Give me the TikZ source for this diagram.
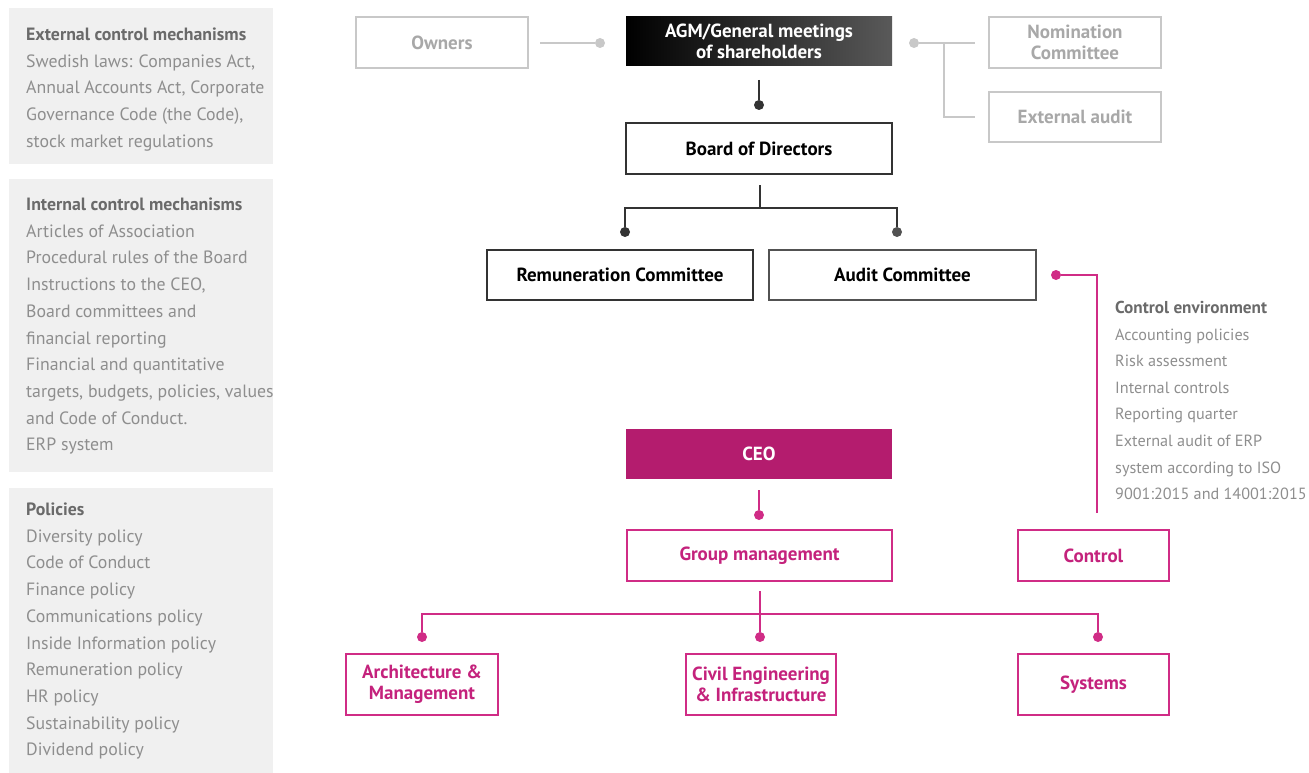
\documentclass[tikz,border=0pt]{standalone}
\usepackage{fontspec}
\setmainfont{PT Sans}
\definecolor{panelfill}{HTML}{F0F0F0}
\definecolor{headgray}{HTML}{6A6A6A}
\definecolor{bodygray}{HTML}{8E8E8E}
\definecolor{lgline}{HTML}{C8C8C8}
\definecolor{lgtext}{HTML}{A8A8A8}
\definecolor{darkline}{HTML}{333333}
\definecolor{mag}{HTML}{D02C86}
\definecolor{magtext}{HTML}{C4227C}
\definecolor{ceofill}{HTML}{B41C6E}
\tikzset{
  boxbase/.style={rectangle, inner sep=2pt, align=center, font=\fontsize{19}{21}\selectfont\bfseries, line width=2pt},
  gbox/.style={boxbase, draw=lgline, text=lgtext},
  dbox/.style={boxbase, draw=darkline, text=black},
  mbox/.style={boxbase, draw=mag, text=magtext},
  dotstyle/.style={circle, inner sep=0pt, minimum size=10pt},
  gline/.style={draw=lgline, line width=2pt},
  dline/.style={draw=darkline, line width=2pt},
  mline/.style={draw=mag, line width=2pt},
  linetext/.style={anchor=base west, inner sep=0pt, text=bodygray, font=\fontsize{17.8}{22}\selectfont},
  headtext/.style={linetext, text=headgray, font=\fontsize{17.8}{22}\selectfont\bfseries},
  cetext/.style={linetext, font=\fontsize{16.2}{22}\selectfont},
  cehead/.style={headtext, font=\fontsize{17.2}{22}\selectfont\bfseries}
}
\begin{document}
\begin{tikzpicture}[x=1pt,y=-1pt]
\useasboundingbox (0,0) rectangle (1309,773);
% left panels
\fill[panelfill] (9,8) rectangle (273,164);
\fill[panelfill] (9,179) rectangle (273,472);
\fill[panelfill] (9,488) rectangle (273,773);
\node[headtext] (p1h) at (26,40.5) {External control mechanisms};
\foreach \t [count=\i] in {{Swedish laws: Companies Act,},{Annual Accounts Act, Corporate},{Governance Code (the Code),},{stock market regulations}}
  \node[linetext] (p1-\i) at (26,40.5+26.7*\i) {\t};
\node[headtext] (p2h) at (26,210.5) {Internal control mechanisms};
\foreach \t [count=\i] in {{Articles of Association},{Procedural rules of the Board},{Instructions to the CEO,},{Board committees and},{financial reporting},{Financial and quantitative},{targets, budgets, policies, values},{and Code of Conduct.},{ERP system}}
  \node[linetext] (p2-\i) at (26,210.5+26.7*\i) {\t};
\node[headtext] (p3h) at (26,515.5) {Policies};
\foreach \t [count=\i] in {{Diversity policy},{Code of Conduct},{Finance policy},{Communications policy},{Inside Information policy},{Remuneration policy},{HR policy},{Sustainability policy},{Dividend policy}}
  \node[linetext] (p3-\i) at (26,515.5+26.7*\i) {\t};
\node[cehead] (ceh) at (1115,313.5) {Control environment};
\foreach \t [count=\i] in {{Accounting policies},{Risk assessment},{Internal controls},{Reporting quarter},{External audit of ERP},{system according to ISO},{9001:2015 and 14001:2015}}
  \node[cetext] (ce-\i) at (1115,313.5+26.6*\i) {\t};
% boxes
\node[gbox, minimum width=172pt, minimum height=51pt] (owners) at (442,42.5) {Owners};
\node[boxbase, shade, left color=black, right color=black!65, text=white, line width=0pt, minimum width=266pt, minimum height=49pt] (agm) at (759,41.5) {AGM/General meetings\\of shareholders};
\node[gbox, minimum width=172pt, minimum height=51pt] (nom) at (1075,42.5) {Nomination\\Committee};
\node[gbox, minimum width=172pt, minimum height=50pt] (ext) at (1075,117) {External audit};
\node[dbox, minimum width=266pt, minimum height=51pt] (board) at (759,148.5) {Board of Directors};
\node[dbox, minimum width=266pt, minimum height=50pt] (rem) at (620,275) {Remuneration Committee};
\node[dbox, draw=darkline!85, minimum width=267pt, minimum height=50pt] (audit) at (902.5,275) {Audit Committee};
\node[boxbase, fill=ceofill, text=white, line width=0pt, minimum width=266pt, minimum height=50pt] (ceo) at (759,454) {CEO};
\node[mbox, minimum width=265pt, minimum height=51pt] (group) at (759.5,555.5) {Group management};
\node[mbox, minimum width=151pt, minimum height=51pt] (control) at (1093.5,555.5) {Control};
\node[mbox, minimum width=152pt, minimum height=61pt] (arch) at (422,684.5) {Architecture \&\\Management};
\node[mbox, minimum width=150pt, minimum height=61pt] (civil) at (761,684.5) {Civil Engineering\\\& Infrastructure};
\node[mbox, minimum width=151pt, minimum height=61pt] (sys) at (1093.5,684.5) {Systems};
% grey connectors
\node[dotstyle, fill=lgline] (dow) at (600,43) {};
\coordinate (sow) at (540,43);
\draw[gline] (sow) -- (dow);
\node[dotstyle, fill=lgline] (dagm) at (914,43) {};
\coordinate (jn) at (944,43);
\coordinate (enom) at (975,43);
\coordinate (jx) at (944,117);
\coordinate (eext) at (975,117);
\draw[gline] (dagm) -- (enom);
\draw[gline] (jn) -- (jx) -- (eext);
% dark connectors
\coordinate (sagm) at (759,80);
\node[dotstyle, fill=darkline] (dboard) at (759,105) {};
\draw[dline] (sagm) -- (dboard);
\coordinate (sboard) at (760,185);
\coordinate (jb) at (760,208);
\coordinate (jl) at (625,208);
\coordinate (jr) at (897,208);
\node[dotstyle, fill=darkline] (drem) at (625,232) {};
\node[dotstyle, fill=darkline!85] (daud) at (897,232) {};
\draw[dline] (sboard) -- (jb);
\draw[dline] (drem) -- (jl) -- (jr) -- (daud);
% magenta connectors
\node[dotstyle, fill=mag] (dctl) at (1056,275) {};
\coordinate (jc) at (1097,275);
\coordinate (ectl) at (1097,513);
\draw[mline] (dctl) -- (jc) -- (ectl);
\coordinate (sceo) at (759,490);
\node[dotstyle, fill=mag] (dgrp) at (759,515) {};
\draw[mline] (sceo) -- (dgrp);
\coordinate (sgrp) at (760,591);
\coordinate (jg) at (760,614);
\coordinate (ja) at (422,614);
\coordinate (js) at (1098,614);
\node[dotstyle, fill=mag] (darch) at (422,637) {};
\node[dotstyle, fill=mag] (dciv) at (760,637) {};
\node[dotstyle, fill=mag] (dsys) at (1098,637) {};
\draw[mline] (sgrp) -- (jg) -- (dciv);
\draw[mline] (darch) -- (ja) -- (js) -- (dsys);
\end{tikzpicture}
\end{document}
